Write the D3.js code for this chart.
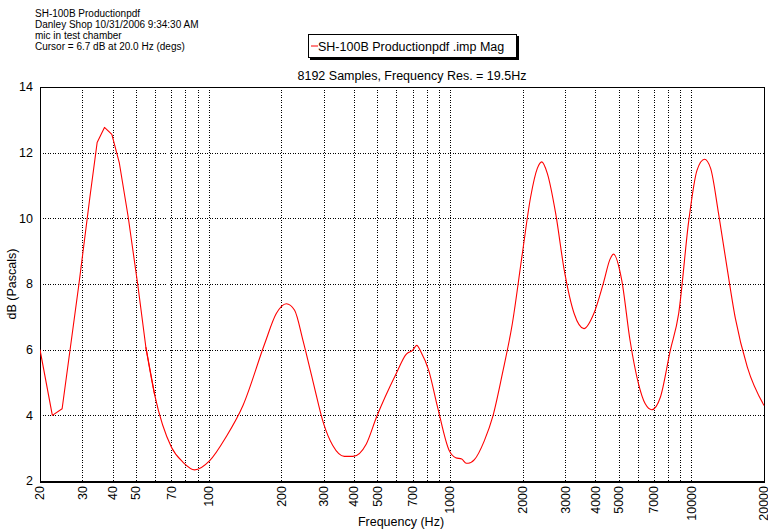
<!DOCTYPE html>
<html>
<head>
<meta charset="utf-8">
<script src="https://cdn.jsdelivr.net/npm/d3@7"></script>
<style>
  body { margin: 0; background: #fff; }
  svg { font-family: "Liberation Sans", Arial, sans-serif; }
</style>
</head>
<body>
<div id="chart"></div>
<script>
// header lines
const headerLines = [
  "SH-100B Productionpdf",
  "Danley Shop 10/31/2006 9:34:30 AM",
  "mic in test chamber",
  "Cursor = 6.7 dB at 20.0 Hz (degs)"
];
const legendLabel = "SH-100B Productionpdf .imp Mag";
const subTitle = "8192 Samples, Frequency Res. = 19.5Hz";

// x ticks / grid
const xTickLabels = [20, 30, 40, 50, 70, 100, 200, 300, 400, 500, 700, 1000, 2000, 3000, 4000, 5000, 7000, 10000, 20000];
const xGrid = [20, 30, 40, 50, 60, 70, 80, 90, 100, 200, 300, 400, 500, 600, 700, 800, 900,
  1000, 2000, 3000, 4000, 5000, 6000, 7000, 8000, 9000, 10000];
const yTicks = [2, 4, 6, 8, 10, 12, 14];

// magnitude curve
const freq = [20, 22.5, 24.7, 29.0, 32.2, 34.5, 37.0, 39.7, 42.6, 46.4, 51.0, 54.9, 59.8, 70.1, 78.3, 87.5,
  101, 118, 138.7, 170.6, 190.6, 209.8, 227, 245.8, 270, 299.6, 326.7, 365, 396, 450, 496, 598, 658,
  700, 728, 758, 816, 888, 992, 1056, 1118, 1168, 1190, 1262, 1388, 1502, 1648, 1812, 1994, 2158,
  2300, 2400, 2530, 2740, 2974, 3268, 3590, 3944, 4332, 4600, 4760, 5146, 5572, 6040, 6440, 6860,
  7440, 8180, 8860, 9760, 10560, 11340, 12020, 12960, 14040, 15220, 17060, 20000];
const mag = [6.0, 4.0, 4.2, 8.0, 10.65, 12.31, 12.77, 12.56, 11.70, 10.04, 7.9, 6.08, 4.61, 3.03, 2.57, 2.34,
  2.62, 3.34, 4.3, 6.18, 7.10, 7.40, 7.20, 6.28, 5.06, 3.74, 3.08, 2.75, 2.75, 3.13, 3.95, 5.27, 5.86,
  5.98, 6.13, 5.93, 5.37, 4.25, 2.93, 2.71, 2.67, 2.54, 2.54, 2.65, 3.23, 3.95, 5.27, 6.79, 8.93, 10.65,
  11.52, 11.72, 11.37, 10.15, 8.42, 7.10, 6.64, 7.10, 8.06, 8.75, 8.91, 8.12, 6.28, 4.96, 4.35, 4.17,
  4.55, 5.98, 7.10, 9.94, 11.47, 11.80, 11.52, 10.15, 8.52, 6.95, 5.47, 4.30];

const W = 768, H = 531;
const plotL = 40, plotR = 764, plotT = 87, plotB = 481;

const svg = d3.select("#chart").append("svg")
  .attr("width", W)
  .attr("height", H);

const x = d3.scaleLog().domain([20, 20000]).range([plotL, plotR]);
const y = d3.scaleLinear().domain([2, 14]).range([plotB, plotT]);

// header
svg.append("g").selectAll("text")
  .data(headerLines)
  .enter().append("text")
  .attr("x", 35)
  .attr("y", (d, i) => 16.5 + i * 11.3)
  .attr("font-size", 10)
  .text(d => d);

// legend box with shadow
svg.append("rect")
  .attr("x", 310).attr("y", 36).attr("width", 209).attr("height", 24)
  .attr("fill", "#000");
svg.append("rect")
  .attr("x", 308.5).attr("y", 34.5).attr("width", 208).attr("height", 23)
  .attr("fill", "#fff").attr("stroke", "#000");
svg.append("line")
  .attr("x1", 311).attr("x2", 318).attr("y1", 46).attr("y2", 46)
  .attr("stroke", "red");
svg.append("text")
  .attr("x", 318).attr("y", 50.5)
  .attr("font-size", 12.5)
  .text(legendLabel);

svg.append("text")
  .attr("x", (plotL + plotR) / 2 + 10).attr("y", 80)
  .attr("text-anchor", "middle")
  .attr("font-size", 12.5)
  .text(subTitle);

// grid
const grid = svg.append("g")
  .attr("stroke", "#000")
  .attr("stroke-dasharray", "1,1.5")
  .attr("shape-rendering", "crispEdges");
grid.selectAll(".vg")
  .data(xGrid)
  .enter().append("line")
  .attr("x1", d => Math.round(x(d)) + 0.5)
  .attr("x2", d => Math.round(x(d)) + 0.5)
  .attr("y1", plotT).attr("y2", plotB);
grid.selectAll(".hg")
  .data(yTicks.slice(1, -1))
  .enter().append("line")
  .attr("y1", d => Math.round(y(d)) + 0.5)
  .attr("y2", d => Math.round(y(d)) + 0.5)
  .attr("x1", plotL).attr("x2", plotR);

// frame
svg.append("rect")
  .attr("x", plotL + 0.5).attr("y", plotT + 0.5)
  .attr("width", plotR - plotL).attr("height", plotB - plotT)
  .attr("fill", "none").attr("stroke", "#000");
svg.append("line")
  .attr("x1", plotL).attr("x2", plotR + 1)
  .attr("y1", plotB + 1.5).attr("y2", plotB + 1.5)
  .attr("stroke", "#000");

// curve: coarse low-frequency bins drawn straight, the rest smoothed
svg.append("defs").append("clipPath").attr("id", "clip")
  .append("rect").attr("x", plotL).attr("y", plotT).attr("width", plotR - plotL + 1).attr("height", plotB - plotT);

const pts = freq.map((f, i) => [f, mag[i]]);
const split = 12;

const lineLin = d3.line()
  .x(d => x(d[0]))
  .y(d => y(d[1]));
const lineSmooth = d3.line()
  .x(d => x(d[0]))
  .y(d => y(d[1]))
  .curve(d3.curveMonotoneX);

const curve = svg.append("g")
  .attr("clip-path", "url(#clip)")
  .attr("fill", "none")
  .attr("stroke", "#ff0000")
  .attr("stroke-width", 1.1)
  .attr("stroke-linejoin", "round");
curve.append("path").attr("d", lineLin(pts.slice(0, split + 1)));
curve.append("path").attr("d", lineSmooth(pts.slice(split - 1)));

// y tick labels
svg.append("g").selectAll("text")
  .data(yTicks)
  .enter().append("text")
  .attr("x", 33)
  .attr("y", d => y(d))
  .attr("dy", "0.35em")
  .attr("text-anchor", "end")
  .attr("font-size", 12.5)
  .text(d => d);

// x tick labels
svg.append("g").selectAll("text")
  .data(xTickLabels)
  .enter().append("text")
  .attr("transform", d => `translate(${x(d)},486) rotate(-90)`)
  .attr("dy", "0.35em")
  .attr("text-anchor", "end")
  .attr("font-size", 12.5)
  .text(d => d);

// axis titles
svg.append("text")
  .attr("transform", `translate(16,${(plotT + plotB) / 2}) rotate(-90)`)
  .attr("text-anchor", "middle")
  .attr("font-size", 12.5)
  .text("dB (Pascals)");
svg.append("text")
  .attr("x", 401).attr("y", 526)
  .attr("text-anchor", "middle")
  .attr("font-size", 12.5)
  .text("Frequency (Hz)");
</script>
</body>
</html>
